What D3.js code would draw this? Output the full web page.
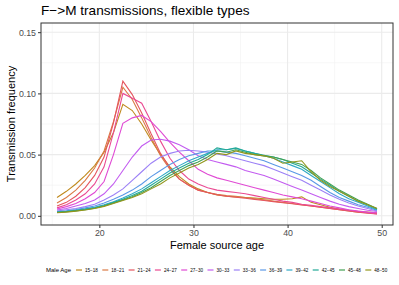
<!DOCTYPE html>
<html>
<head>
<meta charset="utf-8">
<script src="https://cdn.jsdelivr.net/npm/d3@7"></script>
<style>
  body { margin: 0; background: #fff; }
  svg text { font-family: "Liberation Sans", Arial, sans-serif; }
</style>
</head>
<body>
<svg width="399" height="285"></svg>
<script>
// source ages (female), one point per year bin
var ages = d3.range(15.5, 50, 1);

var groups = ["15−18", "18−21", "21−24", "24−27", "27−30", "30−33",
              "33−36", "36−39", "39−42", "42−45", "45−48", "48−50"];

var m15 = [.015, .020, .026, .033, .041, .052, .068, .091, .086, .075, .062, .050, .040, .032, .026, .022, .019, .017, .016, .0155, .015, .0145, .014, .0135, .0135, .014, .0155, .011, .009, .007, .0055, .0045, .0035, .003, .0025];
var m18 = [.0105, .015, .021, .029, .039, .053, .077, .105, .095, .080, .064, .049, .038, .030, .025, .021, .019, .0175, .0165, .016, .015, .014, .013, .012, .011, .010, .009, .008, .007, .006, .005, .004, .003, .0025, .002];
var m21 = [.008, .011, .016, .023, .033, .048, .076, .110, .099, .084, .067, .051, .039, .030, .025, .021, .019, .0172, .016, .0152, .0143, .0134, .0125, .0116, .0107, .0098, .0089, .008, .007, .006, .005, .004, .003, .0022, .0016];
var m24 = [.0065, .009, .013, .018, .026, .040, .068, .100, .096, .092, .077, .061, .047, .037, .030, .026, .023, .021, .020, .019, .018, .0165, .015, .0135, .012, .011, .0095, .0085, .0075, .0065, .0055, .0045, .0035, .0025, .0015];
var m27 = [.0055, .0075, .010, .014, .019, .028, .050, .0755, .080, .082, .077, .069, .060, .052, .045, .038, .034, .031, .029, .027, .025, .023, .021, .019, .017, .0155, .014, .012, .010, .008, .0065, .005, .004, .003, .0025];
var m30 = [.0048, .006, .008, .010, .013, .018, .026, .037, .048, .057, .062, .0625, .061, .058, .054, .049, .046, .044, .042, .040, .037, .035, .033, .030, .027, .024, .021, .018, .015, .012, .0095, .0075, .006, .0045, .0035];
var m33 = [.004, .005, .006, .0075, .0095, .013, .017, .022, .029, .036, .043, .048, .051, .053, .0535, .053, .052, .0505, .049, .047, .045, .043, .041, .038, .035, .032, .029, .025, .021, .017, .0135, .0105, .008, .006, .004];
var m36 = [.0035, .0042, .0052, .0065, .008, .0105, .0135, .017, .021, .026, .032, .037, .042, .046, .049, .051, .053, .053, .052, .051, .049, .047, .045, .042, .039, .036, .033, .029, .024, .019, .015, .012, .009, .007, .0045];
var m39 = [.003, .0037, .0046, .0057, .007, .009, .0115, .0145, .018, .022, .027, .032, .037, .041, .045, .048, .051, .054, .054, .055, .053, .051, .049, .047, .044, .041, .038, .033, .028, .023, .018, .014, .011, .008, .005];
var m42 = [.003, .0035, .0043, .0053, .0066, .0085, .011, .0135, .0165, .020, .025, .030, .035, .039, .043, .046, .050, .0555, .054, .0555, .053, .051, .0495, .048, .046, .043, .040, .035, .030, .025, .020, .016, .012, .009, .0055];
var m45 = [.0027, .0033, .004, .005, .0062, .008, .0105, .013, .0155, .019, .023, .028, .033, .037, .041, .044, .048, .053, .052, .054, .052, .050, .049, .048, .046, .044, .042, .037, .031, .026, .021, .017, .013, .0095, .006];
var m48 = [.0025, .003, .0038, .0048, .006, .0077, .010, .0125, .015, .018, .022, .026, .031, .035, .039, .042, .046, .051, .050, .053, .051, .050, .049, .047, .043, .044, .045, .036, .029, .024, .020, .016, .012, .009, .006];

var series = [m15, m18, m21, m24, m27, m30, m33, m36, m39, m42, m45, m48];

var xTicks = [20, 30, 40, 50];
var yTicks = [0, 0.05, 0.10, 0.15];

var colors = ["#c08a1e", "#da7a45", "#e5565f", "#ea4a92", "#e04ad4", "#c35cf0",
              "#9c80f6", "#5a98e6", "#2fa9c6", "#22a996", "#43a152", "#93961c"];

var svg = d3.select("svg"),
    margin = {top: 23, right: 6, bottom: 60, left: 41},
    width = +svg.attr("width") - margin.left - margin.right,
    height = +svg.attr("height") - margin.top - margin.bottom;

// ggplot style 5% expansion
var xPad = (49.5 - 15.5) * 0.05,
    yPad = 0.15 * 0.05;
var x = d3.scaleLinear().domain([15.5 - xPad, 49.5 + xPad]).range([0, width]);
var y = d3.scaleLinear().domain([-yPad, 0.15 + yPad]).range([height, 0]);

var g = svg.append("g")
    .attr("transform", "translate(" + margin.left + "," + margin.top + ")");

// minor grid
g.append("g").selectAll("line")
    .data([15, 25, 35, 45]).enter().append("line")
    .attr("x1", function(d) { return x(d); }).attr("x2", function(d) { return x(d); })
    .attr("y1", 0).attr("y2", height)
    .attr("stroke", "#f2f2f2").attr("stroke-width", 0.6);
g.append("g").selectAll("line")
    .data([0.025, 0.075, 0.125]).enter().append("line")
    .attr("y1", function(d) { return y(d); }).attr("y2", function(d) { return y(d); })
    .attr("x1", 0).attr("x2", width)
    .attr("stroke", "#f2f2f2").attr("stroke-width", 0.6);
// major grid
g.append("g").selectAll("line")
    .data(xTicks).enter().append("line")
    .attr("x1", function(d) { return x(d); }).attr("x2", function(d) { return x(d); })
    .attr("y1", 0).attr("y2", height)
    .attr("stroke", "#ebebeb").attr("stroke-width", 1.1);
g.append("g").selectAll("line")
    .data(yTicks).enter().append("line")
    .attr("y1", function(d) { return y(d); }).attr("y2", function(d) { return y(d); })
    .attr("x1", 0).attr("x2", width)
    .attr("stroke", "#ebebeb").attr("stroke-width", 1.1);

var line = d3.line()
    .x(function(d, i) { return x(ages[i]); })
    .y(function(d) { return y(d); });

g.append("g").selectAll("path")
    .data(series).enter().append("path")
    .attr("d", line)
    .attr("fill", "none")
    .attr("stroke", function(d, i) { return colors[i]; })
    .attr("stroke-width", 1.1);

// panel border
g.append("rect")
    .attr("width", width).attr("height", height)
    .attr("fill", "none").attr("stroke", "#333").attr("stroke-width", 1);

// axes
var xAxis = g.append("g")
    .attr("transform", "translate(0," + height + ")")
    .call(d3.axisBottom(x).tickValues(xTicks).tickSize(3).tickPadding(2));
var yAxis = g.append("g")
    .call(d3.axisLeft(y).tickValues(yTicks).tickFormat(d3.format(".2f")).tickSize(3).tickPadding(2));
[xAxis, yAxis].forEach(function(a) {
    a.select(".domain").remove();
    a.selectAll(".tick line").attr("stroke", "#333");
    a.selectAll("text").attr("fill", "#4d4d4d").style("font-size", "8.8px");
});

svg.append("text")
    .attr("x", margin.left).attr("y", 15)
    .style("font-size", "13.6px").attr("fill", "#000")
    .text("F−>M transmissions, flexible types");

svg.append("text")
    .attr("x", margin.left + width / 2).attr("y", 249)
    .attr("text-anchor", "middle")
    .style("font-size", "11px")
    .text("Female source age");

svg.append("text")
    .attr("transform", "translate(15," + (margin.top + height / 2) + ") rotate(-90)")
    .attr("text-anchor", "middle")
    .style("font-size", "11px")
    .text("Transmission frequency");

// legend
var legend = svg.append("g").attr("transform", "translate(46,270)");
legend.append("text")
    .attr("x", 0).attr("y", 2.2)
    .style("font-size", "6px")
    .text("Male Age");
var key = legend.selectAll(".key")
    .data(groups).enter().append("g")
    .attr("class", "key")
    .attr("transform", function(d, i) { return "translate(" + (30 + i * 26.3) + ",0)"; });
key.append("line")
    .attr("x1", 0).attr("x2", 6)
    .attr("stroke", function(d, i) { return colors[i]; })
    .attr("stroke-width", 1.2);
key.append("text")
    .attr("x", 9).attr("y", 1.6)
    .style("font-size", "4.6px")
    .attr("fill", "#000")
    .text(function(d) { return d; });
</script>
</body>
</html>
